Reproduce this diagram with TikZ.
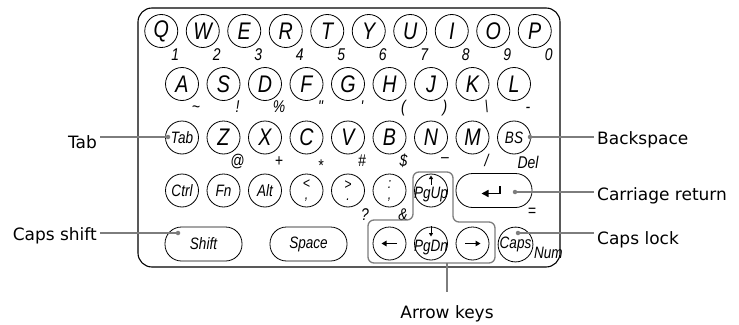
\documentclass[tikz,border=0pt]{standalone}
\usepackage{fontspec}
\setmainfont{DejaVu Sans}
\newfontfamily\keyfont[FakeStretch=0.82]{Liberation Sans}
\usetikzlibrary{arrows.meta}
\definecolor{cgray}{RGB}{125,125,125}
\newcommand\bigkey{\keyfont\itshape\fontsize{24}{24}\selectfont}
\newcommand\smallkey{\keyfont\itshape\fontsize{16.5}{16.5}\selectfont}
\newcommand\subkey{\keyfont\itshape\fontsize{17}{17}\selectfont}
\newcommand\stackkey{\keyfont\itshape\fontsize{15}{15}\selectfont}
\newcommand\labfont{\fontsize{17}{17}\selectfont}
\begin{document}
\begin{tikzpicture}[x=1pt,y=-1pt,
  key/.style={circle,draw,line width=0.8pt,minimum size=33pt,inner sep=0pt,font=\bigkey},
  fnkey/.style={key,font=\smallkey},
  pillkey/.style={draw,line width=0.8pt,rounded corners=16.5pt,minimum height=34pt,inner sep=0pt,font=\smallkey},
  sub/.style={anchor=base,inner sep=0pt,font=\subkey},
  stack/.style={key,font=\stackkey,align=center},
  call/.style={draw=cgray,line width=1.2pt},
  lab/.style={font=\labfont,inner sep=3pt},
  cdot/.style={circle,fill=cgray,inner sep=0pt,minimum size=4.5pt},
  glyph/.style={line width=1.6pt,line cap=butt}
]
\useasboundingbox (0,0) rectangle (739,324);
% board outline
\node[draw,line width=1.1pt,rounded corners=14pt,minimum width=422pt,minimum height=259pt,inner sep=0pt] (board) at (349,137.5) {};

% row 1
\foreach \l/\d [count=\i from 0] in {Q/1,W/2,E/3,R/4,T/5,Y/6,U/7,I/8,O/9,P/0}{
  \node[key] (k\l) at ({161.25+41.5*\i},31) {\l};
  \node[sub] (s\l) at ({175.25+41.5*\i},60) {\d};
}
% row 2
\foreach \l/\d [count=\i from 0] in {A/{\textasciitilde},S/{!},D/{\%},F/{"},G/{'},H/{(},J/{)},K/{\textbackslash},L/{-}}{
  \node[key] (k\l) at ({182+41.5*\i},84) {\l};
  \node[sub] (s\l) at ({196+41.5*\i},112.5) {\d};
}
% row 3
\node[fnkey] (kTab) at (182,137.5) {Tab};
\node[key] (kZ) at (223.5,137.5) {Z};
\node[key] (kX) at (265,137.5) {X};
\node[key] (kC) at (306.5,137.5) {C};
\node[key] (kV) at (348,137.5) {V};
\node[key] (kB) at (389.5,137.5) {B};
\node[key] (kN) at (431,137.5) {N};
\node[key] (kM) at (472.5,137.5) {M};
\node[fnkey] (kBS) at (514,137.5) {BS};
\node[sub] (sZ) at (237.5,166.5) {@};
\node[sub] (sX) at (279,166.5) {+};
\node[sub] (sC) at (320.5,171) {*};
\node[sub] (sV) at (362,166.5) {\#};
\node[sub] (sB) at (403.5,166.5) {\$};
\node[sub] (sN) at (445,162) {\textendash};
\node[sub] (sM) at (486.5,166.5) {/};
\node[sub] (sBS) at (528,168) {Del};

% row 4
\node[fnkey] (kCtrl) at (182,190.5) {Ctrl};
\node[fnkey] (kFn) at (223.5,190.5) {Fn};
\node[fnkey] (kAlt) at (265,190.5) {Alt};
\node[stack] (kLt) at (306.5,190.5) {<\\[-4pt],};
\node[stack] (kGt) at (348,190.5) {>\\[-4pt].};
\node[stack] (kCol) at (389.5,190.5) {:\\[-4pt],};
\node[key] (kPgUp) at (431,190.5) {};
\node[inner sep=0pt,font=\smallkey] (tPgUp) at (431,194.5) {PgUp};
\node[pillkey,minimum width=76pt] (kEnter) at (494,190.5) {};
\node[sub] (sGt) at (365,220) {?};
\node[sub] (sCol) at (403,220) {\&};
\node[sub] (sEnter) at (532,216) {=};

% row 5
\node[pillkey,minimum width=77pt] (kShift) at (203.5,244) {Shift};
\node[pillkey,minimum width=77pt] (kSpace) at (308.5,244) {Space};
\node[key] (kLeft) at (389.5,243.5) {};
\node[key] (kPgDn) at (431,243.5) {};
\node[inner sep=0pt,font=\smallkey] (tPgDn) at (431,247.5) {PgDn};
\node[key] (kRight) at (472.5,243.5) {};
\node[fnkey] (kCaps) at (515.5,244.5) {Caps};
\node[sub,anchor=base west,font=\smallkey] (sCaps) at (534,258) {Num};

% glyphs inside keys
\draw[glyph,{Triangle[length=7pt,width=7pt]}-] (481.5,193.5) -- (500,193.5) -- (500,186);
\draw[line width=1pt,-{Triangle[length=3.5pt,width=4pt]}] (431,184.5) -- (431,175.5);
\draw[line width=1pt,-{Triangle[length=3.5pt,width=4pt]}] (431,226) -- (431,236.5);
\draw[line width=1.4pt,-{Triangle[length=5pt,width=5.5pt]}] (397,243.5) -- (381.5,243.5);
\draw[line width=1.4pt,-{Triangle[length=5pt,width=5.5pt]}] (465,243.5) -- (480.5,243.5);

% arrow-key group outline
\draw[call,line width=1.3pt,rounded corners=6pt] (413,200) -- (413,172) -- (453,172) -- (453,222) -- (495,222) -- (495,263) -- (368,263) -- (368,220) -- (413,220) -- cycle;

% callouts
\node[lab,anchor=base east] (lTab) at (100,148) {Tab};
\node[cdot] (dTab) at (168,137) {};
\draw[call] (lTab.east |- dTab) -- (dTab);

\node[lab,anchor=base east] (lShift) at (100,240) {Caps shift};
\node[cdot] (dShift) at (178,233) {};
\draw[call] (lShift.east |- dShift) -- (dShift);

\node[lab,anchor=base west] (lBS) at (594,144) {Backspace};
\node[cdot] (dBS) at (530,137) {};
\draw[call] (dBS) -- (lBS.west |- dBS);

\node[lab,anchor=base west] (lCR) at (594,200) {Carriage return};
\node[cdot] (dCR) at (515,192) {};
\draw[call] (dCR) -- (lCR.west |- dCR);

\node[lab,anchor=base west] (lCaps) at (594,244) {Caps lock};
\node[cdot] (dCaps) at (518,233) {};
\draw[call] (dCaps) -- (lCaps.west |- dCaps);

\coordinate (aTop) at (447,263);
\coordinate (aEnd) at (447,292);
\node[lab,anchor=base] (lArr) at (447,318) {Arrow keys};
\draw[call] (aTop) -- (aEnd);
\end{tikzpicture}
\end{document}
